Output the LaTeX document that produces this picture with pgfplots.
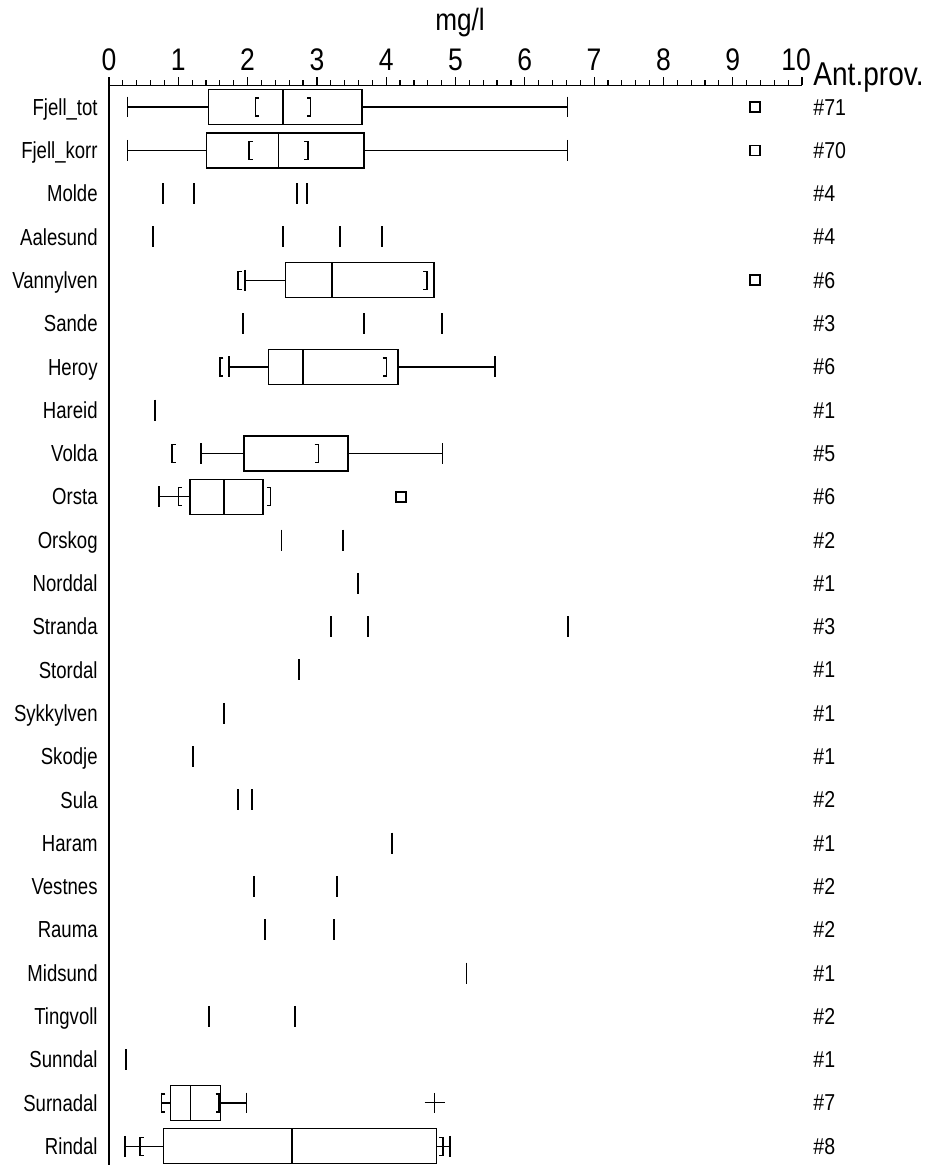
\documentclass[border=0pt]{standalone}
\usepackage{pgfplots}
\pgfplotsset{compat=1.18}
\usepgfplotslibrary{statistics}
\usepackage{fontspec}
\setmainfont{Liberation Sans}
\newfontfamily\cond[FakeStretch=0.85]{Liberation Sans}
\newfontfamily\condb[FakeStretch=0.8]{Liberation Sans}

\pgfdeclareplotmark{lbr}{%
 \pgfpathmoveto{\pgfqpoint{1.8pt}{4.5pt}}%
 \pgfpathlineto{\pgfqpoint{0pt}{4.5pt}}%
 \pgfpathlineto{\pgfqpoint{0pt}{-4.5pt}}%
 \pgfpathlineto{\pgfqpoint{1.8pt}{-4.5pt}}%
 \pgfusepathqstroke}
\pgfdeclareplotmark{rbr}{%
 \pgfpathmoveto{\pgfqpoint{-1.8pt}{4.5pt}}%
 \pgfpathlineto{\pgfqpoint{0pt}{4.5pt}}%
 \pgfpathlineto{\pgfqpoint{0pt}{-4.5pt}}%
 \pgfpathlineto{\pgfqpoint{-1.8pt}{-4.5pt}}%
 \pgfusepathqstroke}

\pgfplotsset{
 bp/.style={black, line width=0.7pt, solid},
}

\begin{document}
\begin{tikzpicture}
\begin{axis}[
 at={(0,0)}, anchor=south west,
 scale only axis, width=346.5pt, height=541.25pt,
 xmin=0, xmax=10, ymin=0.5, ymax=25.5, y dir=reverse,
 axis x line*=top, axis y line*=left,
 x axis line style={line width=0.7pt},
 y axis line style={line width=1pt},
 xtick={0,...,10}, minor x tick num=4,
 xticklabels={0,1,2,3,4,5,6,7,8,9,10\kern6pt},
 tick align=outside,
 major tick length=4pt, minor tick length=2.5pt,
 xtick style={line width=0.6pt, black},
 minor x tick style={line width=0.6pt, black},
 ytick={1,...,25},
 yticklabels={Fjell\_tot,Fjell\_korr,Molde,Aalesund,Vannylven,Sande,Heroy,Hareid,Volda,Orsta,Orskog,Norddal,Stranda,Stordal,Sykkylven,Skodje,Sula,Haram,Vestnes,Rauma,Midsund,Tingvoll,Sunndal,Surnadal,Rindal},
 ytick style={draw=none},
 yticklabel style={font=\condb\fontsize{11.6}{12}\selectfont, anchor=base east, inner sep=0pt, xshift=-1.5pt, yshift=-4.1pt},
 xticklabel style={font=\cond\fontsize{15.6}{16}\selectfont, anchor=base, inner sep=0pt, yshift=3.5pt},
 /pgf/number format/assume math mode=true,
 boxplot/draw direction=x,
 clip=false,
]
% box plots
\addplot[bp, boxplot prepared={draw position=1, lower whisker=0.27, lower quartile=1.44, median=2.51, upper quartile=3.65, upper whisker=6.62, box extend=0.81, whisker extend=0.48}] coordinates {};
\addplot[bp, boxplot prepared={draw position=2, lower whisker=0.27, lower quartile=1.41, median=2.45, upper quartile=3.68, upper whisker=6.62, box extend=0.81, whisker extend=0.48}] coordinates {};
\addplot[bp, boxplot prepared={draw position=5, lower whisker=1.96, lower quartile=2.55, median=3.22, upper quartile=4.69, upper whisker=4.69, box extend=0.81, whisker extend=0.48}] coordinates {};
\addplot[bp, boxplot prepared={draw position=7, lower whisker=1.73, lower quartile=2.30, median=2.80, upper quartile=4.17, upper whisker=5.57, box extend=0.81, whisker extend=0.48}] coordinates {};
\addplot[bp, boxplot prepared={draw position=9, lower whisker=1.33, lower quartile=1.95, median=1.95, upper quartile=3.45, upper whisker=4.81, box extend=0.81, whisker extend=0.48}] coordinates {};
\addplot[bp, boxplot prepared={draw position=10, lower whisker=0.72, lower quartile=1.17, median=1.66, upper quartile=2.22, upper whisker=2.22, box extend=0.81, whisker extend=0.48}] coordinates {};
\addplot[bp, boxplot prepared={draw position=24, lower whisker=0.76, lower quartile=0.89, median=1.18, upper quartile=1.61, upper whisker=1.98, box extend=0.81, whisker extend=0.48}] coordinates {};
\addplot[bp, boxplot prepared={draw position=25, lower whisker=0.23, lower quartile=0.79, median=2.64, upper quartile=4.73, upper whisker=4.92, box extend=0.81, whisker extend=0.48}] coordinates {};
% brackets
\addplot[only marks, mark=lbr, mark options={black, line width=0.7pt}] coordinates {(2.11,1) (2.02,2) (1.86,5) (1.60,7) (0.91,9) (1.00,10) (0.76,24) (0.45,25)};
\addplot[only marks, mark=rbr, mark options={black, line width=0.7pt}] coordinates {(2.91,1) (2.87,2) (4.59,5) (4.00,7) (3.02,9) (2.33,10) (1.59,24) (4.82,25)};
% single values
\addplot[only marks, mark=|, mark size=5.25pt, mark options={black, line width=0.9pt}] coordinates {
 (0.78,3) (1.23,3) (2.71,3) (2.86,3)
 (0.63,4) (2.51,4) (3.33,4) (3.94,4)
 (1.93,6) (3.68,6) (4.80,6)
 (0.66,8)
 (2.49,11) (3.38,11)
 (3.59,12)
 (3.20,13) (3.74,13) (6.62,13)
 (2.74,14)
 (1.66,15)
 (1.21,16)
 (1.86,17) (2.06,17)
 (4.08,18)
 (2.09,19) (3.29,19)
 (2.25,20) (3.25,20)
 (5.16,21)
 (1.44,22) (2.68,22)
 (0.25,23)
};
% outliers
\addplot[only marks, mark=square, mark size=2.5pt, mark options={black, line width=0.8pt}] coordinates {(9.32,1) (9.32,2) (9.32,5) (4.21,10)};
\addplot[only marks, mark=+, mark size=5pt, mark options={black, line width=0.5pt}] coordinates {(4.70,24)};
\end{axis}
\begin{axis}[
 at={(0,0)}, anchor=south west,
 scale only axis, width=346.5pt, height=541.25pt,
 xmin=0, xmax=10, ymin=0.5, ymax=25.5, y dir=reverse,
 hide x axis, axis y line*=right, y axis line style={draw=none},
 ytick={1,...,25},
 yticklabels={\#71,\#70,\#4,\#4,\#6,\#3,\#6,\#1,\#5,\#6,\#2,\#1,\#3,\#1,\#1,\#1,\#2,\#1,\#2,\#2,\#1,\#2,\#1,\#7,\#8},
 ytick style={draw=none},
 yticklabel style={font=\cond\fontsize{11.5}{12}\selectfont, anchor=base west, inner sep=0pt, xshift=5.5pt, yshift=-4pt},
]
\end{axis}
\node[anchor=base west, inner sep=0pt, font=\cond\fontsize{16.5}{18}\selectfont] at (352pt,541.25pt) {Ant.prov.};
\node[anchor=base, inner sep=0pt, font=\cond\fontsize{15.4}{17}\selectfont] at (175.5pt,568.75pt) {mg/l};
\pgfresetboundingbox
\path (-54.5pt,1.45pt) rectangle (412pt,583.95pt);
\end{tikzpicture}
\end{document}
